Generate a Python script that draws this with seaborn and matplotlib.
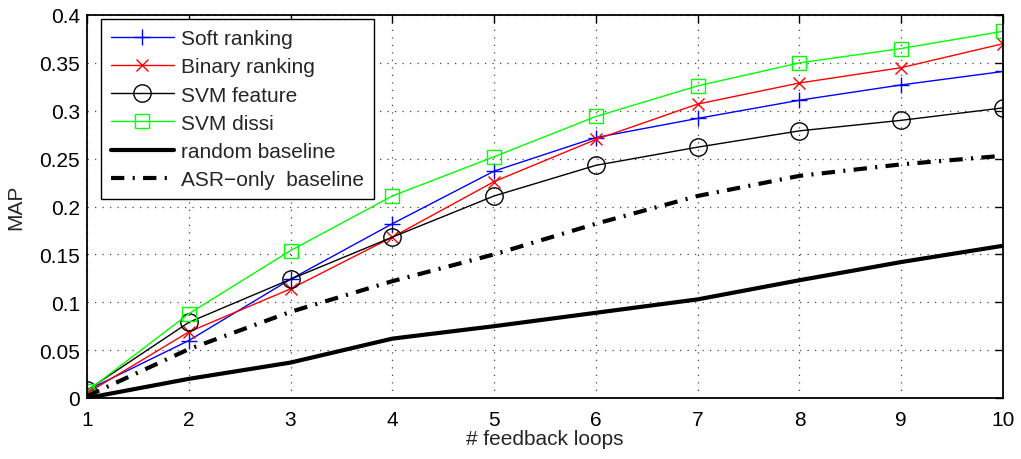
import numpy as np
import pandas as pd
import matplotlib
matplotlib.use("Agg")
import matplotlib.pyplot as plt
import seaborn as sns
from matplotlib.ticker import FuncFormatter

loops = [1, 2, 3, 4, 5, 6, 7, 8, 9, 10]
soft_ranking = [0.008, 0.060, 0.124, 0.182, 0.237, 0.272, 0.292, 0.311, 0.327, 0.341]
binary_ranking = [0.005, 0.069, 0.114, 0.168, 0.226, 0.270, 0.307, 0.329, 0.345, 0.370]
svm_feature = [0.008, 0.079, 0.124, 0.168, 0.211, 0.243, 0.262, 0.279, 0.290, 0.303]
svm_dissi = [0.007, 0.088, 0.154, 0.211, 0.252, 0.294, 0.326, 0.350, 0.365, 0.383]
random_baseline = [0.0, 0.020, 0.037, 0.062, 0.075, 0.089, 0.103, 0.123, 0.142, 0.159]
asr_baseline = [0.002, 0.051, 0.090, 0.122, 0.150, 0.182, 0.211, 0.232, 0.244, 0.253]

sns.set_theme(style="white")
plt.rcParams['font.family'] = ['Liberation Sans', 'DejaVu Sans']

fig = plt.figure(figsize=(10.21, 4.6), dpi=100)
ax = fig.add_axes([87/1021, 1-399/460, (1003-87)/1021, (399-16)/460])

blue, red, green = (0, 0, 1), (1, 0, 0), (0, 1, 0)
sns.lineplot(x=loops, y=soft_ranking, ax=ax, color=blue, lw=1, marker='+',
             markersize=12, markeredgewidth=1, markeredgecolor=blue,
             label='Soft ranking')
sns.lineplot(x=loops, y=binary_ranking, ax=ax, color=red, lw=1, marker='x',
             markersize=8, markeredgewidth=1, markeredgecolor=red,
             label='Binary ranking')
sns.lineplot(x=loops, y=svm_feature, ax=ax, color='black', lw=1, marker='o',
             markersize=12.5, markerfacecolor='none', markeredgecolor='black',
             markeredgewidth=1, label='SVM feature')
sns.lineplot(x=loops, y=svm_dissi, ax=ax, color=green, lw=1, marker='s',
             markersize=9.5, markerfacecolor='none', markeredgecolor=green,
             markeredgewidth=1, label='SVM dissi')
sns.lineplot(x=loops, y=random_baseline, ax=ax, color='black', lw=3,
             label='random baseline')
sns.lineplot(x=loops, y=asr_baseline, ax=ax, color='black', lw=3,
             linestyle=(0, (3.2, 2.0, 0.5, 2.0)), label='ASR\u2212only  baseline')

ax.set_xlim(1, 10)
ax.set_ylim(0, 0.4)
ax.set_xticks(loops)
ax.set_yticks(np.arange(0, 0.401, 0.05))
ax.yaxis.set_major_formatter(FuncFormatter(lambda v, p: f"{v:g}"))
ax.grid(True, linestyle=(0, (1, 5)), color='#444444', linewidth=0.9)
ax.tick_params(direction='in', length=6, width=1, top=True, right=True,
               labelsize=15, colors='black')
ax.tick_params(axis='x', pad=9)
ax.tick_params(axis='y', pad=5)
for s in ax.spines.values():
    s.set_color('black')
    s.set_linewidth(1.3)
ax.set_xlabel('# feedback loops', fontsize=15, labelpad=0)
ax.set_ylabel('MAP', fontsize=15, labelpad=10)

leg = ax.legend(loc='upper left', bbox_to_anchor=(0.015, 0.99), borderaxespad=0,
                fontsize=15, frameon=True, fancybox=False, framealpha=1,
                edgecolor='black', handlelength=3.0, labelspacing=0.44,
                borderpad=0.5, handletextpad=0.35)
leg.get_frame().set_linewidth(1)

fig.savefig('out.png', dpi=100)
